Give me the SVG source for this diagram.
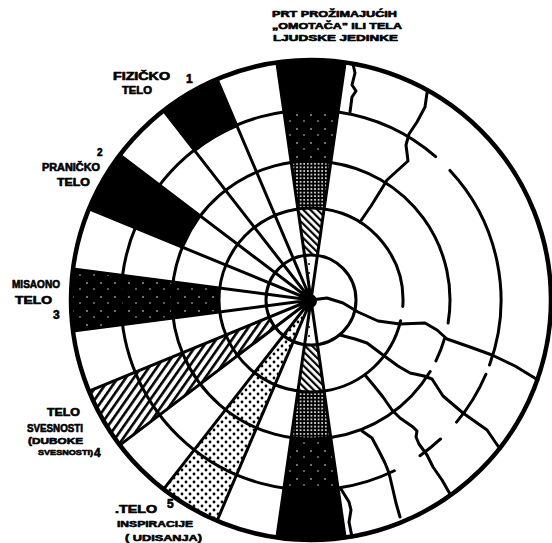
<svg xmlns="http://www.w3.org/2000/svg" width="552" height="543" viewBox="0 0 552 543">
<defs>
<style>
.ln{fill:none;stroke:#000;stroke-width:3;stroke-linecap:round;stroke-linejoin:round}
.outer{fill:none;stroke:#000;stroke-width:4.5}
.blk{fill:#000}
.t{font-family:"Liberation Sans",Arial,sans-serif;font-weight:bold;fill:#000;stroke:#000;stroke-width:0.6;stroke-linejoin:round}
</style>
<pattern id="hatchN" width="5" height="5" patternUnits="userSpaceOnUse" patternTransform="rotate(-45)"><rect width="5" height="5" fill="#fff"/><rect width="2.2" height="5" fill="#000"/></pattern>
<pattern id="hatchS" width="6.5" height="6.5" patternUnits="userSpaceOnUse" patternTransform="rotate(35)"><rect width="6.5" height="6.5" fill="#fff"/><rect width="2.6" height="6.5" fill="#000"/></pattern>
<pattern id="dense" width="3.6" height="3.6" patternUnits="userSpaceOnUse"><rect width="3.6" height="3.6" fill="#000"/><circle cx="1.8" cy="1.8" r="0.95" fill="#fff"/></pattern>
<pattern id="sparse" width="14" height="14" patternUnits="userSpaceOnUse"><rect width="14" height="14" fill="#000"/><circle cx="3" cy="3" r="0.8" fill="#fff"/><circle cx="10" cy="9" r="0.7" fill="#fff"/></pattern>
<pattern id="light" width="8" height="8" patternUnits="userSpaceOnUse"><rect width="8" height="8" fill="#fff"/><circle cx="2" cy="2" r="1.4" fill="#000"/><circle cx="6" cy="6" r="1.4" fill="#000"/></pattern>
<pattern id="faint" width="9" height="9" patternUnits="userSpaceOnUse"><rect width="9" height="9" fill="#fff"/><circle cx="3" cy="3" r="1" fill="#000"/></pattern>
</defs>
<rect width="552" height="543" fill="#fff"/>

<g id="shading">
  <g id="fizicko-fill"><path class="blk" d="M217.04,79.15 A240,240 0 0 0 163.5,110.69 L195.46,151.71 A188,188 0 0 1 237.4,127 Z"/></g>
  <g id="panicko-fill"><path class="blk" d="M119.84,154.9 A240,240 0 0 0 88.98,208.85 L182.41,247.21 A139,139 0 0 1 200.29,215.96 Z"/></g>
  <g id="misaono-fill"><path fill="url(#sparse)" d="M73.02,268.92 A240,240 0 0 0 73.02,331.08 L219.77,311.91 A92,92 0 0 1 219.77,288.09 Z"/></g>
  <g id="svesnost-fill"><path fill="url(#hatchS)" d="M88.98,391.1 A240,240 0 0 0 119.82,445.08 L275.15,327.2 A45,45 0 0 1 269.37,317.08 Z"/></g>
  <g id="inspiracija-fill"><path fill="url(#light)" d="M311,300 L163.47,489.31 A240,240 0 0 0 216.99,520.82 Z"/></g>
  <g id="north-band">
    <path class="blk" d="M276.85,62.45 A240,240 0 0 1 345.15,62.45 L337.9,112 A190,190 0 0 0 284.1,112 Z"/>
    <path fill="url(#sparse)" d="M284.1,112 A190,190 0 0 1 337.9,112 L330.78,162.42 A139,139 0 0 0 291.22,162.42 Z"/>
    <path fill="url(#dense)" d="M291.22,162.42 A139,139 0 0 1 330.78,162.42 L324.09,208.94 A92,92 0 0 0 297.91,208.94 Z"/>
    <path fill="url(#hatchN)" d="M297.91,208.94 A92,92 0 0 1 324.09,208.94 L317.4,255.46 A45,45 0 0 0 304.6,255.46 Z"/>
    <path fill="url(#faint)" d="M311,300 L304.6,255.46 A45,45 0 0 1 317.4,255.46 Z"/>
  </g>
  <g id="south-band">
    <path class="blk" d="M276.85,537.55 A240,240 0 0 0 345.15,537.55 L337.9,488 A190,190 0 0 1 284.1,488 Z"/>
    <path fill="url(#sparse)" d="M284.1,488 A190,190 0 0 0 337.9,488 L330.78,437.58 A139,139 0 0 1 291.22,437.58 Z"/>
    <path fill="url(#dense)" d="M291.22,437.58 A139,139 0 0 0 330.78,437.58 L324.09,391.06 A92,92 0 0 1 297.91,391.06 Z"/>
    <path fill="url(#hatchN)" d="M297.91,391.06 A92,92 0 0 0 324.09,391.06 L317.4,344.54 A45,45 0 0 1 304.6,344.54 Z"/>
    <path fill="url(#faint)" d="M311,300 L304.6,344.54 A45,45 0 0 0 317.4,344.54 Z"/>
  </g>
</g>

<g id="connectors">
  <path class="ln" d="M311,300 L345.15,62.45 M311,300 L276.85,62.45 M311,300 L217.04,79.15 M311,300 L163.5,110.69 M311,300 L119.84,154.9 M311,300 L88.98,208.85 M311,300 L73.02,268.92 M311,300 L73.02,331.08 M311,300 L88.98,391.1 M311,300 L119.82,445.08 M311,300 L163.47,489.31 M311,300 L216.99,520.82 M311,300 L276.85,537.55 M311,300 L345.15,537.55"/>
  <circle class="ln" cx="311" cy="300" r="45"/>
  <path class="ln" d="M324.09,208.94 A92,92 0 1 0 324.09,391.06"/>
  <path class="ln" d="M324.09,208.94 A92,92 0 0 1 402.78,306.42 M400.64,320.7 A92,92 0 0 1 324.09,391.06"/>
  <path class="ln" d="M330.78,162.42 A139,139 0 1 0 330.78,437.58"/>
  <path class="ln" d="M330.78,162.42 A139,139 0 0 1 448.1,322.94 M444.62,338.31 A139,139 0 0 1 435.93,360.94 M430.15,371.59 A139,139 0 0 1 330.78,437.58"/>
  <path class="ln" d="M338.04,111.94 A190,190 0 1 0 338.04,488.06"/>
  <path class="ln" d="M338.04,111.94 A190,190 0 0 1 435.66,156.61 M449.97,170.42 A190,190 0 0 1 489.54,364.98 M485.9,374.23 A190,190 0 0 1 456.54,422.13 M440.58,438.97 A190,190 0 0 1 419.98,455.65 M394.29,470.77 A190,190 0 0 1 338.04,488.06"/>
  <circle class="outer" cx="311" cy="300" r="240"/>
  <polyline class="ln" points="311,300 327,298 343,303 358,312 378,321 400,324 425,323 437,330 447,339 470,347 492,355 515,366 538,380"/>
  <polyline class="ln" points="340,335 355,339 367,343 383,355 398,366 410,373 424,376 432,379 443,396 463,413 487,430 500,449"/>
  <polyline class="ln" points="365,375 375,387 383,397 392,410 400,418 413,427 417,431 416,437 419,444 427,455 433,467 442,480 450,494"/>
  <polyline class="ln" points="362,431 372,438 380,453 385,463 389,473 393,490 396,503 400,517"/>
  <polyline class="ln" points="427,93 425,107 417,122 409,134 406,145 408,161 398,170 387,180 381,190 371,206 360,222"/>
  <polyline class="ln" points="353,64 355,73 352,85 356,91 352,97 350,112"/>
  <polyline class="ln" points="341,489 349,502 351,510 349,522 352,537"/>
  <circle cx="310" cy="301" r="7" fill="#000"/>
</g>

<g id="label-top">
  <text class="t" x="272" y="17" font-size="9" textLength="125" lengthAdjust="spacingAndGlyphs">PRT PROŽIMAJUĆIH</text>
  <text class="t" x="272" y="29" font-size="9" textLength="130" lengthAdjust="spacingAndGlyphs">„OMOTAČA" ILI TELA</text>
  <text class="t" x="273" y="40.5" font-size="9" textLength="125" lengthAdjust="spacingAndGlyphs">LJUDSKE JEDINKE</text>
</g>
<g id="label-fizicko">
  <text class="t" x="113" y="80" font-size="10" textLength="57" lengthAdjust="spacingAndGlyphs">FIZIČKO</text>
  <text class="t" x="186" y="83" font-size="12">1</text>
  <text class="t" x="122" y="94" font-size="10" textLength="30" lengthAdjust="spacingAndGlyphs">TELO</text>
</g>
<g id="label-panicko">
  <text class="t" x="97" y="156" font-size="10">2</text>
  <text class="t" x="42" y="171" font-size="10" textLength="58" lengthAdjust="spacingAndGlyphs">PRANIČKO</text>
  <text class="t" x="57" y="186" font-size="10" textLength="33" lengthAdjust="spacingAndGlyphs">TELO</text>
</g>
<g id="label-misaono">
  <text class="t" x="12" y="288" font-size="10.5" textLength="48" lengthAdjust="spacingAndGlyphs">MISAONO</text>
  <text class="t" x="15" y="304" font-size="10" textLength="37" lengthAdjust="spacingAndGlyphs">TELO</text>
  <text class="t" x="53" y="319" font-size="12">3</text>
</g>
<g id="label-svesnost">
  <text class="t" x="47" y="416" font-size="10" textLength="33" lengthAdjust="spacingAndGlyphs">TELO</text>
  <text class="t" x="27" y="432" font-size="10" textLength="56" lengthAdjust="spacingAndGlyphs">SVESNOSTI</text>
  <text class="t" x="28" y="444" font-size="9" textLength="55" lengthAdjust="spacingAndGlyphs">(DUBOKE</text>
  <text class="t" x="38" y="455" font-size="8" textLength="55" lengthAdjust="spacingAndGlyphs">SVESNOSTI)</text>
  <text class="t" x="94" y="457" font-size="12">4</text>
</g>
<g id="label-inspiracija">
  <text class="t" x="115" y="513" font-size="10" textLength="42" lengthAdjust="spacingAndGlyphs">.TELO</text>
  <text class="t" x="167" y="508" font-size="12">5</text>
  <text class="t" x="117" y="527" font-size="9.5" textLength="76" lengthAdjust="spacingAndGlyphs">INSPIRACIJE</text>
  <text class="t" x="125" y="541" font-size="9.5" textLength="77" lengthAdjust="spacingAndGlyphs">( UDISANJA)</text>
</g>
</svg>
